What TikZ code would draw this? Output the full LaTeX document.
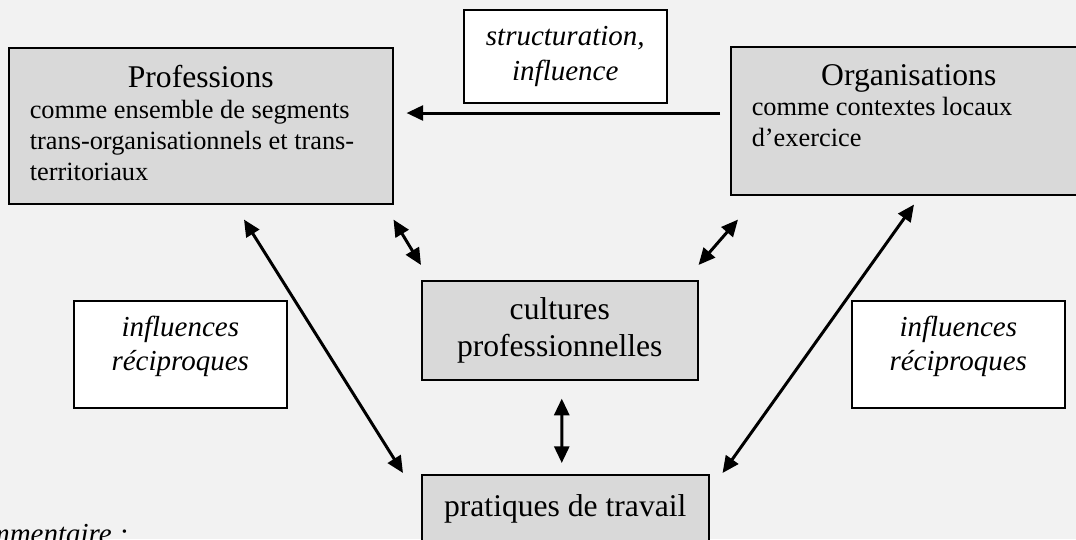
\documentclass[tikz,border=0pt]{standalone}
\usepackage{fontspec}
\setmainfont{Liberation Serif}
\usetikzlibrary{arrows.meta,calc}
\definecolor{bggrey}{HTML}{F2F2F2}
\definecolor{boxgrey}{HTML}{D9D9D9}

\begin{document}
\begin{tikzpicture}[x=0.02cm, y=-0.02cm,
	grey box/.style={draw, fill=boxgrey, line width=0.9pt, inner sep=0pt, anchor=north west},
	label box/.style={draw, fill=white, line width=0.9pt, inner sep=0pt, anchor=north west, align=center, font=\fontsize{16.5}{19.8}\selectfont\itshape},
	link/.style={line width=1.7pt, {Triangle[length=9.5pt,width=8.5pt]}-{Triangle[length=9.5pt,width=8.5pt]}},
	flow/.style={line width=1.7pt, -{Triangle[length=9.5pt,width=8.5pt]}}]
	\useasboundingbox (0,0) rectangle (1076,539);
	\clip (0,0) rectangle (1076,539);
	\fill[bggrey] (0,0) rectangle (1076,539);
	% boxes
	\node[grey box] (prof) at (8,47) {\parbox[c][3.12cm][t]{7.68cm}{\vspace*{0.346cm}%
		{\centering\fontsize{18}{21.6}\selectfont Professions\par}
		\leftskip=0.42cm \fontsize{15}{17.6}\selectfont
		comme ensemble de segments\\
		trans-organisationnels et trans-\\
		territoriaux}};
	\node[grey box] (orga) at (730,46) {\parbox[c][2.96cm][t]{7.12cm}{\vspace*{0.346cm}%
		{\centering\fontsize{18}{21.6}\selectfont Organisations\par}
		\leftskip=0.42cm \fontsize{15}{17.6}\selectfont
		comme contextes locaux\\
		d’exercice}};
	\node[label box, minimum width=4.06cm, minimum height=1.86cm] (struct) at (463,9) {structuration,\\ influence};
	\node[label box] (inflA) at (73,300) {\parbox[c][2.14cm][t]{4.26cm}{\vspace*{0.3cm}\centering
		influences\\ réciproques}};
	\node[label box] (inflB) at (851,300) {\parbox[c][2.14cm][t]{4.26cm}{\vspace*{0.3cm}\centering
		influences\\ réciproques}};
	\node[grey box, minimum width=5.52cm, minimum height=1.98cm, align=center, font=\fontsize{18}{21.5}\selectfont] (cult) at (421,280) {cultures\\ professionnelles};
	\node[grey box] (prat) at (421,474) {\parbox[c][2.2cm][t]{5.74cm}{\vspace*{0.386cm}%
		\centering\fontsize{18}{21.6}\selectfont pratiques de travail}};
	\node[anchor=base east, inner sep=0pt, font=\fontsize{16.5}{19.8}\selectfont\itshape] (comment) at (129,543) {Commentaire~:};
	% arrows
	\path[flow] ($(orga.north west)+(-10,67)$) edge ($(prof.north east)+(13,66)$);
	\path[link]
		($(prof.south west)+(236,15)$) edge ($(prat.north west)+(-18,-1)$)
		($(prof.south east)+(0,15)$) edge ($(cult.north west)+(0,-15)$)
		($(orga.south west)+(8,24)$) edge ($(cult.north east)+(0,-15)$)
		($(orga.south west)+(184,9)$) edge ($(prat.north east)+(13,-1)$)
		($(cult.south)+(2,18)$) edge ($(prat.north)+(-3.5,-11)$);
\end{tikzpicture}
\end{document}
